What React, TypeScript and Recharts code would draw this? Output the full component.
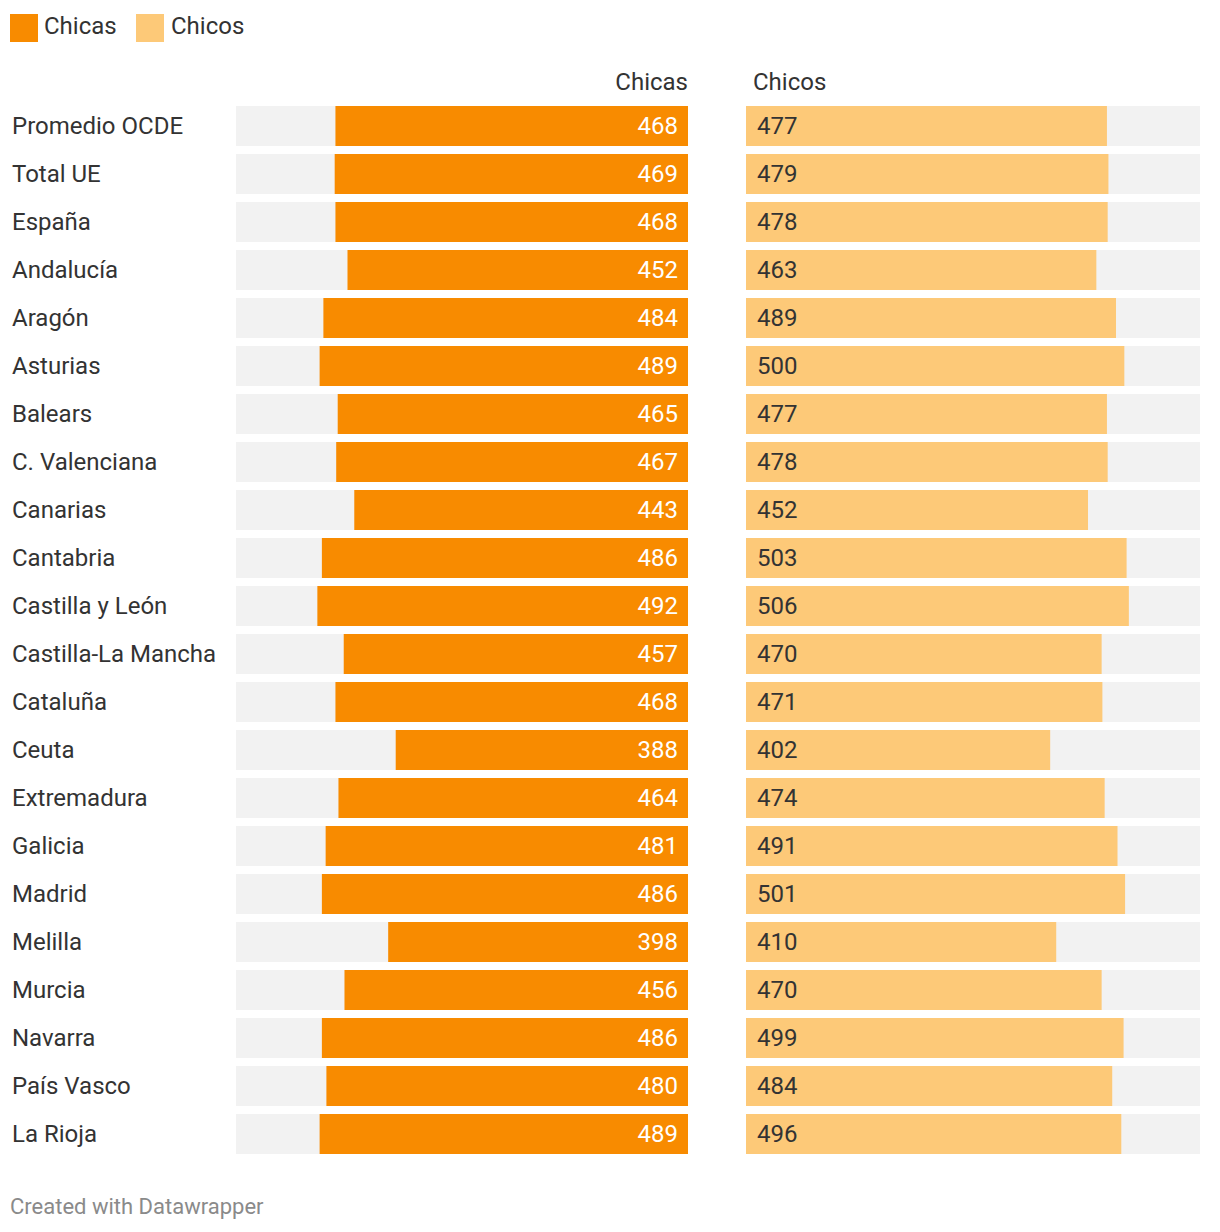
import React from 'react';
import { BarChart, Bar, XAxis, YAxis, LabelList } from 'recharts';

const categories = [
  'Promedio OCDE', 'Total UE', 'España', 'Andalucía', 'Aragón', 'Asturias', 'Balears',
  'C. Valenciana', 'Canarias', 'Cantabria', 'Castilla y León', 'Castilla-La Mancha',
  'Cataluña', 'Ceuta', 'Extremadura', 'Galicia', 'Madrid', 'Melilla', 'Murcia',
  'Navarra', 'País Vasco', 'La Rioja',
];
const chicas = [468, 469, 468, 452, 484, 489, 465, 467, 443, 486, 492, 457, 468, 388, 464, 481, 486, 398, 456, 486, 480, 489];
const chicos = [477, 479, 478, 463, 489, 500, 477, 478, 452, 503, 506, 470, 471, 402, 474, 491, 501, 410, 470, 499, 484, 496];
const seriesNames = ['Chicas', 'Chicos'];
const domainMax = 600;

const data = categories.map((name, i) => ({ name, chicas: chicas[i], chicos: chicos[i] }));

const FONT = 'Roboto, sans-serif';
const ORANGE = '#f88b00';
const LIGHT = '#fdc978';
const BG = '#f2f2f2';
const TEXT = '#333333';
const FS = 24;

const CHART_H = 1232;
const MARGIN_TOP = 102;
const MARGIN_BOTTOM = CHART_H - 1158;

const CategoryTick = (props: any) => {
  const { y, payload } = props;
  return (
    <text x={12} y={y} dominantBaseline="central" textAnchor="start" fill={TEXT} fontSize={FS} fontFamily={FONT}>
      {payload.value}
    </text>
  );
};

const LeftLabel = (props: any) => {
  const { x, y, width, height, value } = props;
  const right = Math.max(x, x + width);
  return (
    <text x={right - 10} y={y + height / 2} dominantBaseline="central" textAnchor="end" fill="#ffffff" fontSize={FS} fontFamily={FONT}>
      {value}
    </text>
  );
};

const RightLabel = (props: any) => {
  const { x, y, width, height, value } = props;
  const left = Math.min(x, x + width);
  return (
    <text x={left + 11} y={y + height / 2} dominantBaseline="central" textAnchor="start" fill={TEXT} fontSize={FS} fontFamily={FONT}>
      {value}
    </text>
  );
};

export default function App() {
  return (
    <div style={{ position: 'relative', width: 1220, height: 1232, background: '#fff', fontFamily: FONT }}>
      <style>{`body{margin:0;}`}</style>
      <svg width={1220} height={1232} style={{ position: 'absolute', left: 0, top: 0 }}>
        <rect x={10} y={14} width={28} height={28} fill={ORANGE} />
        <text x={44} y={34} fontSize={FS} fontFamily={FONT} fill={TEXT}>{seriesNames[0]}</text>
        <rect x={136} y={14} width={28} height={28} fill={LIGHT} />
        <text x={171} y={34} fontSize={FS} fontFamily={FONT} fill={TEXT}>{seriesNames[1]}</text>
        <text x={688} y={90} textAnchor="end" fontSize={FS} fontFamily={FONT} fill={TEXT}>{seriesNames[0]}</text>
        <text x={753} y={90} textAnchor="start" fontSize={FS} fontFamily={FONT} fill={TEXT}>{seriesNames[1]}</text>
        <text x={10} y={1214} fontSize={22} fontFamily={FONT} fill="#8a8a8a">Created with Datawrapper</text>
      </svg>
      <div style={{ position: 'absolute', left: 0, top: 0 }}>
        <BarChart width={688} height={CHART_H} data={data} layout="vertical"
          margin={{ top: MARGIN_TOP, right: 0, left: 0, bottom: MARGIN_BOTTOM }}>
          <XAxis type="number" domain={[0, domainMax]} reversed hide />
          <YAxis type="category" dataKey="name" width={236} axisLine={false} tickLine={false} tick={<CategoryTick />} interval={0} />
          <Bar dataKey="chicas" fill={ORANGE} barSize={40} background={{ fill: BG }} isAnimationActive={false}>
            <LabelList dataKey="chicas" content={<LeftLabel />} />
          </Bar>
        </BarChart>
      </div>
      <div style={{ position: 'absolute', left: 746, top: 0 }}>
        <BarChart width={474} height={CHART_H} data={data} layout="vertical"
          margin={{ top: MARGIN_TOP, right: 20, left: 0, bottom: MARGIN_BOTTOM }}>
          <XAxis type="number" domain={[0, domainMax]} hide />
          <YAxis type="category" dataKey="name" hide />
          <Bar dataKey="chicos" fill={LIGHT} barSize={40} background={{ fill: BG }} isAnimationActive={false}>
            <LabelList dataKey="chicos" content={<RightLabel />} />
          </Bar>
        </BarChart>
      </div>
    </div>
  );
}
